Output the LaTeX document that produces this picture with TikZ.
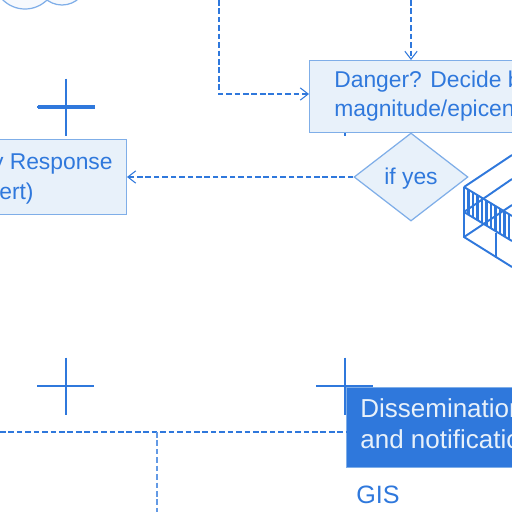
\documentclass[tikz,border=0pt]{standalone}
\usepackage{fontspec}
\setmainfont{Liberation Sans}
\usepackage{xcolor}
\usetikzlibrary{shapes.geometric,arrows.meta,positioning,calc}
\definecolor{planblue}{HTML}{2F78DC}
\definecolor{paleblue}{HTML}{E8F1FA}
\definecolor{edgeblue}{HTML}{7FAEE8}

\begin{document}
\begin{tikzpicture}[
    x=0.02cm, y=-0.02cm,
    box/.style={draw=edgeblue, line width=0.7pt, fill=paleblue, inner sep=0pt},
    boxtext/.style={text=planblue, anchor=west, align=left, inner sep=0pt, font=\fontsize{13}{16.6}\selectfont},
    dashwire/.style={draw=planblue, line width=0.8pt, dash pattern=on 3.2pt off 1.6pt},
    arrowwire/.style={dashwire, -{Straight Barb[length=4.5pt,width=7pt,line width=0.6pt]}},
    crossmark/.style={draw=planblue, line width=1.35pt},
    frameline/.style={draw=planblue, line width=1.1pt}
]
    \useasboundingbox (0,0) rectangle (512,512);
    \clip (0,0) rectangle (512,512);

    % Cloud at the top edge
    \draw[draw=edgeblue, fill=paleblue!40, line width=0.7pt] (62,-20) circle (25);
    \draw[draw=edgeblue, fill=paleblue!40, line width=0.7pt] (25,-22.4) circle (31.4);

    % Cross marks
    \foreach \cx/\cy in {66/107, 345/107, 66/386, 345/386} {
        \draw[crossmark] (\cx,\cy-28.5) -- (\cx,\cy+28.5);
        \draw[crossmark] (\cx-28.5,\cy) -- (\cx+28.5,\cy);
    }
    \draw[crossmark, line width=2pt] (38,107) -- (95,107);

    % Danger box
    \node[box, anchor=north west, minimum width=5cm, minimum height=1.44cm] (danger) at (309,60) {};
    \node[boxtext] (dangertxt) at (334,96.5) {Danger? Decide by\\magnitude/epicenter};

    % Response box
    \node[box, anchor=north east, minimum width=4cm, minimum height=1.5cm] (response) at (127,139) {};
    \node[boxtext, anchor=east, font=\fontsize{13}{17}\selectfont] (responsetxt) at (113,178.5) {Early Response\\\hspace*{0.4cm}(Alert)};

    % Decision
    \node[diamond, draw=edgeblue, fill=paleblue, text=planblue, line width=0.7pt, minimum width=2.28cm, minimum height=1.76cm, inner sep=0pt, text height=1.15em, font=\fontsize{13}{14}\selectfont] (ifyes) at (411,177) {if yes};

    % Dissemination box
    \node[box, fill=planblue, anchor=north west, minimum width=4cm, minimum height=1.6cm] (dissem) at (346,387) {};
    \node[boxtext, text=paleblue, font=\fontsize{14.8}{17.6}\selectfont] (dissemtxt) at (360,424) {Dissemination\\and notification};
    \node[boxtext, font=\fontsize{14.3}{15}\selectfont] (gis) at (356,495) {GIS};

    % Wires
    \coordinate (topa) at (219,0);
    \coordinate (topb) at (411,0);
    \coordinate (lefta) at (0,432);
    \coordinate (branch) at (157,432);
    \coordinate (bottoma) at (157,512);
    \draw[arrowwire] (topa) |- (danger.west |- 0,94);
    \draw[arrowwire] (topb) -- (411,60);
    \draw[arrowwire] (ifyes.west) -- (response.east |- ifyes.west);
    \draw[dashwire] (lefta) -- (dissem.west |- lefta);
    \draw[dashwire, draw=planblue!75] (branch) -- (bottoma);

    % Building at the right edge
    \draw[frameline] (464,187) -- (464,237) -- (512,267);
    \draw[frameline] (464,187) -- (512,155);
    \draw[frameline] (464,187) -- (512,216);
    \draw[frameline] (464,212) -- (512,241);
    \draw[frameline] (464,212) -- (512,179);
    \draw[frameline] (464,237) -- (512,205);
    \draw[frameline] (496,233) -- (496,258);
    \foreach \hx in {464,468.5,...,512} {
        \draw[frameline, line width=1.5pt] (\hx,{187+(\hx-464)*0.6}) -- (\hx,{212+(\hx-464)*0.6});
    }
\end{tikzpicture}
\end{document}
